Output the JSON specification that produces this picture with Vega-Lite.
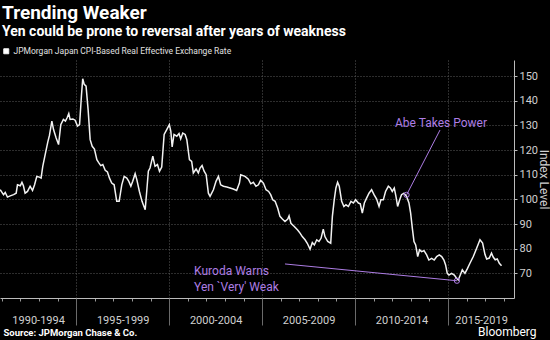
{
  "$schema": "https://vega.github.io/schema/vega-lite/v6.json",
  "width": 514,
  "height": 238,
  "autosize": {"type": "none"},
  "padding": {"left": 0, "top": 60, "right": 36, "bottom": 42},
  "background": "#000000",
  "config": {"view": {"stroke": null}, "font": "Roboto"},
  "title": {
    "text": "Trending Weaker",
    "subtitle": "Yen could be prone to reversal after years of weakness",
    "anchor": "start",
    "frame": "group",
    "offset": 8,
    "dx": 2,
    "font": "Roboto",
    "fontSize": 19,
    "fontWeight": "bold",
    "color": "#ffffff",
    "subtitleFont": "Roboto",
    "subtitleFontSize": 14,
    "subtitleFontWeight": "bold",
    "subtitleColor": "#ffffff",
    "subtitlePadding": 2
  },
  "datasets": {
    "rate": [
      {"t": 1990.91, "v": 103.9}, {"t": 1991.09, "v": 101.9}, {"t": 1991.18, "v": 102.8}, {"t": 1991.30, "v": 100.9},
      {"t": 1991.45, "v": 101.4}, {"t": 1991.63, "v": 101.9}, {"t": 1991.77, "v": 102.5}, {"t": 1991.84, "v": 105.9},
      {"t": 1991.99, "v": 105.5}, {"t": 1992.08, "v": 106.9}, {"t": 1992.16, "v": 105.5}, {"t": 1992.25, "v": 102.5},
      {"t": 1992.38, "v": 103.2}, {"t": 1992.52, "v": 105.3}, {"t": 1992.65, "v": 103.6}, {"t": 1992.76, "v": 105.9},
      {"t": 1992.88, "v": 109.3}, {"t": 1993.02, "v": 109.0}, {"t": 1993.11, "v": 108.6}, {"t": 1993.20, "v": 113.4},
      {"t": 1993.33, "v": 118.1}, {"t": 1993.47, "v": 123.2}, {"t": 1993.56, "v": 125.9}, {"t": 1993.69, "v": 131.7},
      {"t": 1993.78, "v": 128.3}, {"t": 1993.92, "v": 124.9}, {"t": 1994.05, "v": 122.2}, {"t": 1994.17, "v": 130.3},
      {"t": 1994.31, "v": 132.4}, {"t": 1994.42, "v": 131.7}, {"t": 1994.51, "v": 133.1}, {"t": 1994.60, "v": 134.8},
      {"t": 1994.67, "v": 132.4}, {"t": 1994.82, "v": 132.6}, {"t": 1994.94, "v": 132.1}, {"t": 1995.07, "v": 129.7},
      {"t": 1995.18, "v": 130.3}, {"t": 1995.28, "v": 141.9}, {"t": 1995.35, "v": 148.9}, {"t": 1995.43, "v": 146.6},
      {"t": 1995.53, "v": 145.9}, {"t": 1995.64, "v": 136.4}, {"t": 1995.75, "v": 124.2}, {"t": 1995.86, "v": 121.5},
      {"t": 1995.98, "v": 120.4}, {"t": 1996.11, "v": 116.1}, {"t": 1996.20, "v": 115.0}, {"t": 1996.32, "v": 113.7},
      {"t": 1996.43, "v": 114.1}, {"t": 1996.56, "v": 111.8}, {"t": 1996.68, "v": 111.1}, {"t": 1996.79, "v": 108.6},
      {"t": 1996.91, "v": 106.6}, {"t": 1997.04, "v": 105.9}, {"t": 1997.18, "v": 99.2}, {"t": 1997.31, "v": 99.2},
      {"t": 1997.45, "v": 105.9}, {"t": 1997.58, "v": 109.3}, {"t": 1997.72, "v": 108.6}, {"t": 1997.83, "v": 107.3},
      {"t": 1997.94, "v": 105.3}, {"t": 1998.04, "v": 107.3}, {"t": 1998.17, "v": 110.4}, {"t": 1998.26, "v": 108.0},
      {"t": 1998.40, "v": 103.2}, {"t": 1998.54, "v": 99.2}, {"t": 1998.71, "v": 95.8}, {"t": 1998.80, "v": 103.9},
      {"t": 1998.88, "v": 111.4}, {"t": 1998.97, "v": 112.7}, {"t": 1999.12, "v": 117.5}, {"t": 1999.24, "v": 113.4},
      {"t": 1999.37, "v": 114.1}, {"t": 1999.48, "v": 111.4}, {"t": 1999.60, "v": 113.1}, {"t": 1999.73, "v": 126.3},
      {"t": 1999.87, "v": 128.3}, {"t": 2000.01, "v": 130.3}, {"t": 2000.09, "v": 127.6}, {"t": 2000.16, "v": 121.3},
      {"t": 2000.26, "v": 126.3}, {"t": 2000.41, "v": 125.6}, {"t": 2000.53, "v": 126.7}, {"t": 2000.62, "v": 124.5},
      {"t": 2000.73, "v": 126.9}, {"t": 2000.86, "v": 126.3}, {"t": 2000.95, "v": 124.2}, {"t": 2001.09, "v": 116.1},
      {"t": 2001.21, "v": 115.4}, {"t": 2001.30, "v": 110.7}, {"t": 2001.45, "v": 112.3}, {"t": 2001.57, "v": 110.7},
      {"t": 2001.66, "v": 112.7}, {"t": 2001.77, "v": 113.7}, {"t": 2001.88, "v": 111.4}, {"t": 2001.99, "v": 110.0},
      {"t": 2002.11, "v": 102.5}, {"t": 2002.20, "v": 101.2}, {"t": 2002.38, "v": 103.9}, {"t": 2002.52, "v": 107.3},
      {"t": 2002.65, "v": 109.3}, {"t": 2002.77, "v": 105.9}, {"t": 2002.92, "v": 105.3}, {"t": 2003.10, "v": 105.0},
      {"t": 2003.28, "v": 104.6}, {"t": 2003.45, "v": 104.2}, {"t": 2003.63, "v": 103.6}, {"t": 2003.78, "v": 106.6},
      {"t": 2003.85, "v": 110.0}, {"t": 2004.08, "v": 109.3}, {"t": 2004.26, "v": 108.2}, {"t": 2004.39, "v": 106.3},
      {"t": 2004.53, "v": 106.9}, {"t": 2004.67, "v": 105.3}, {"t": 2004.80, "v": 105.9}, {"t": 2004.92, "v": 107.7},
      {"t": 2005.07, "v": 106.6}, {"t": 2005.21, "v": 103.9}, {"t": 2005.35, "v": 103.2}, {"t": 2005.46, "v": 101.9},
      {"t": 2005.57, "v": 99.8}, {"t": 2005.70, "v": 99.2}, {"t": 2005.84, "v": 96.4}, {"t": 2005.96, "v": 93.1},
      {"t": 2006.09, "v": 92.0}, {"t": 2006.23, "v": 91.0}, {"t": 2006.38, "v": 92.0}, {"t": 2006.45, "v": 93.3},
      {"t": 2006.55, "v": 90.3}, {"t": 2006.73, "v": 89.0}, {"t": 2006.91, "v": 87.6}, {"t": 2007.04, "v": 86.3},
      {"t": 2007.16, "v": 84.9}, {"t": 2007.31, "v": 83.6}, {"t": 2007.43, "v": 82.2}, {"t": 2007.58, "v": 79.8},
      {"t": 2007.70, "v": 82.5}, {"t": 2007.81, "v": 81.5}, {"t": 2007.94, "v": 83.6}, {"t": 2008.06, "v": 82.9},
      {"t": 2008.17, "v": 84.2}, {"t": 2008.29, "v": 87.9}, {"t": 2008.38, "v": 84.9}, {"t": 2008.53, "v": 82.9},
      {"t": 2008.69, "v": 82.2}, {"t": 2008.78, "v": 93.1}, {"t": 2008.88, "v": 99.8}, {"t": 2008.97, "v": 104.6},
      {"t": 2009.06, "v": 106.9}, {"t": 2009.15, "v": 105.3}, {"t": 2009.28, "v": 99.2}, {"t": 2009.40, "v": 97.1},
      {"t": 2009.51, "v": 97.8}, {"t": 2009.64, "v": 97.1}, {"t": 2009.78, "v": 99.2}, {"t": 2009.91, "v": 98.5},
      {"t": 2010.03, "v": 99.8}, {"t": 2010.18, "v": 98.5}, {"t": 2010.28, "v": 98.2}, {"t": 2010.39, "v": 94.4},
      {"t": 2010.50, "v": 98.5}, {"t": 2010.62, "v": 100.5}, {"t": 2010.75, "v": 102.5}, {"t": 2010.89, "v": 103.9},
      {"t": 2011.02, "v": 101.9}, {"t": 2011.16, "v": 100.1}, {"t": 2011.29, "v": 97.1}, {"t": 2011.39, "v": 99.8},
      {"t": 2011.52, "v": 99.8}, {"t": 2011.64, "v": 103.2}, {"t": 2011.79, "v": 105.3}, {"t": 2011.90, "v": 104.6},
      {"t": 2012.00, "v": 103.2}, {"t": 2012.11, "v": 104.6}, {"t": 2012.20, "v": 101.2}, {"t": 2012.29, "v": 97.1},
      {"t": 2012.40, "v": 99.8}, {"t": 2012.50, "v": 101.9}, {"t": 2012.63, "v": 102.5}, {"t": 2012.77, "v": 101.2},
      {"t": 2012.90, "v": 98.5}, {"t": 2012.99, "v": 94.4}, {"t": 2013.08, "v": 88.3}, {"t": 2013.17, "v": 82.9},
      {"t": 2013.26, "v": 81.5}, {"t": 2013.37, "v": 76.8}, {"t": 2013.47, "v": 79.5}, {"t": 2013.58, "v": 78.8},
      {"t": 2013.71, "v": 79.2}, {"t": 2013.85, "v": 77.5}, {"t": 2013.97, "v": 75.4}, {"t": 2014.12, "v": 76.1},
      {"t": 2014.26, "v": 75.4}, {"t": 2014.39, "v": 76.8}, {"t": 2014.53, "v": 77.5}, {"t": 2014.66, "v": 76.8},
      {"t": 2014.78, "v": 75.4}, {"t": 2014.87, "v": 73.4}, {"t": 2014.96, "v": 70.0}, {"t": 2015.05, "v": 69.3},
      {"t": 2015.19, "v": 70.0}, {"t": 2015.34, "v": 69.3}, {"t": 2015.46, "v": 68.0}, {"t": 2015.55, "v": 67.3},
      {"t": 2015.66, "v": 69.3}, {"t": 2015.77, "v": 71.4}, {"t": 2015.91, "v": 70.0}, {"t": 2016.05, "v": 72.0},
      {"t": 2016.18, "v": 74.1}, {"t": 2016.36, "v": 76.8}, {"t": 2016.54, "v": 80.2}, {"t": 2016.72, "v": 83.6},
      {"t": 2016.86, "v": 82.3}, {"t": 2016.99, "v": 77.6}, {"t": 2017.08, "v": 75.8}, {"t": 2017.22, "v": 76.2},
      {"t": 2017.34, "v": 78.2}, {"t": 2017.43, "v": 76.6}, {"t": 2017.54, "v": 75.5}, {"t": 2017.65, "v": 75.8},
      {"t": 2017.76, "v": 74.1}, {"t": 2017.88, "v": 73.1}
    ],
    "notes": [
      {"label": "Abe Takes Power", "lx": 2012.15, "ly": 130.9, "sx": 2014.57, "sy": 128.1, "px": 2012.77, "py": 101.8},
      {"label": "Kuroda Warns\nYen `Very' Weak", "lx": 2001.34, "ly": 70.9, "sx": 2006.23, "sy": 73.8, "px": 2015.48, "py": 67.0}
    ]
  },
  "layer": [
    {
      "data": {"name": "rate"},
      "mark": {"type": "line", "strokeWidth": 1.5, "interpolate": "linear"},
      "encoding": {
        "x": {
          "field": "t", "type": "quantitative",
          "scale": {"domain": [1990.9, 2018.55], "nice": false, "zero": false},
          "axis": {
            "orient": "bottom",
            "values": [1991, 1992, 1993, 1994, 1995, 1996, 1997, 1998, 1999, 2000, 2001, 2002, 2003, 2004, 2005, 2006, 2007, 2008, 2009, 2010, 2011, 2012, 2013, 2014, 2015, 2016, 2017, 2018],
            "labels": false,
            "ticks": true, "tickSize": 3, "tickColor": "#999999",
            "domain": true, "domainColor": "#bbbbbb", "domainWidth": 1,
            "grid": true, "gridColor": "#5a5a5a", "gridDash": [1, 2],
            "gridOpacity": {"condition": {"test": "datum.value % 5 === 0", "value": 1}, "value": 0},
            "title": "Bloomberg",
            "titleAnchor": "end", "titleAlign": "right", "titleX": 536, "titleY": 33, "titleBaseline": "middle",
            "titleFont": "Roboto", "titleFontSize": 12, "titleFontWeight": "normal", "titleColor": "#ffffff"
          }
        },
        "y": {
          "field": "v", "type": "quantitative",
          "scale": {"domain": [60, 156.5], "nice": false, "zero": false},
          "axis": {
            "orient": "right",
            "values": [70, 80, 90, 100, 110, 120, 130, 140, 150],
            "grid": true, "gridColor": "#5a5a5a", "gridDash": [1, 2],
            "tickSize": 3, "tickColor": "#bbbbbb",
            "domain": true, "domainColor": "#bbbbbb",
            "labelColor": "#d0d0d0", "labelFont": "Roboto", "labelFontSize": 11, "labelPadding": 2,
            "title": "Index Level", "titleColor": "#d0d0d0", "titleFont": "Roboto", "titleFontSize": 12,
            "titleFontWeight": "normal", "titlePadding": -1
          }
        },
        "color": {
          "datum": "JPMorgan Japan CPI-Based Real Effective Exchange Rate",
          "scale": {"range": ["#f2f2f2"]},
          "legend": {
            "orient": "none", "legendX": 2, "legendY": -13, "title": null,
            "symbolType": "square", "symbolSize": 25, "symbolFillColor": "#ffffff",
            "symbolStrokeColor": "#ffffff", "symbolStrokeWidth": 1,
            "labelFont": "Roboto", "labelFontSize": 8.5, "labelColor": "#e0e0e0", "labelOffset": 3, "labelLimit": 400
          }
        }
      }
    },
    {
      "data": {"name": "notes"},
      "mark": {"type": "rule", "color": "#ad7de4", "strokeWidth": 1},
      "encoding": {
        "x": {
          "field": "sx", "type": "quantitative",
          "scale": {"domain": [1990.9, 2018.55], "nice": false, "zero": false},
          "axis": {
            "orient": "bottom",
            "values": [1992.95, 1995, 1997.5, 2000, 2002.5, 2005, 2007.5, 2010, 2012.5, 2015, 2016.78],
            "domain": false, "grid": false,
            "ticks": true, "tickSize": 27, "tickColor": "#6a6a6a",
            "tickOpacity": {"condition": {"test": "datum.value % 5 === 0", "value": 1}, "value": 0},
            "labelExpr": "datum.value % 5 === 0 ? '' : (floor(datum.value / 5) * 5) + '-' + (floor(datum.value / 5) * 5 + 4)",
            "labelPadding": -11, "labelFontSize": 11, "labelColor": "#d0d0d0", "labelFont": "Roboto",
            "labelBaseline": "top", "labelFlush": false, "labelOverlap": false,
            "title": "Source: JPMorgan Chase & Co.",
            "titleAnchor": "start", "titleAlign": "left", "titleX": 3, "titleY": 34, "titleBaseline": "middle",
            "titleFont": "Roboto", "titleFontSize": 9.5, "titleFontWeight": "bold", "titleColor": "#ffffff"
          }
        },
        "y": {"field": "sy", "type": "quantitative", "scale": {"domain": [60, 156.5], "nice": false, "zero": false}, "axis": null},
        "x2": {"field": "px"},
        "y2": {"field": "py"}
      }
    },
    {
      "data": {"name": "notes"},
      "mark": {"type": "point", "shape": "circle", "filled": false, "size": 28, "color": "#ad7de4", "strokeWidth": 1, "opacity": 1},
      "encoding": {
        "x": {"field": "px", "type": "quantitative", "scale": {"domain": [1990.9, 2018.55], "nice": false, "zero": false}, "axis": null},
        "y": {"field": "py", "type": "quantitative", "scale": {"domain": [60, 156.5], "nice": false, "zero": false}, "axis": null}
      }
    },
    {
      "data": {"name": "notes"},
      "mark": {"type": "text", "align": "left", "baseline": "middle", "font": "Roboto", "fontSize": 12, "color": "#ad7de4", "lineBreak": "\n", "lineHeight": 16},
      "encoding": {
        "x": {"field": "lx", "type": "quantitative", "scale": {"domain": [1990.9, 2018.55], "nice": false, "zero": false}, "axis": null},
        "y": {"field": "ly", "type": "quantitative", "scale": {"domain": [60, 156.5], "nice": false, "zero": false}, "axis": null},
        "text": {"field": "label"}
      }
    }
  ],
  "resolve": {"axis": {"x": "independent", "y": "independent"}}
}
